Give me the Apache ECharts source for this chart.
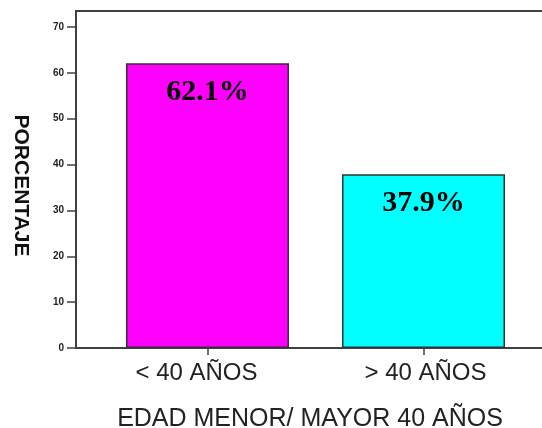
<!DOCTYPE html>
<html>
<head>
<meta charset="utf-8">
<script src="https://cdn.jsdelivr.net/npm/echarts@6/dist/echarts.min.js"></script>
<style>html,body{margin:0;padding:0;background:#fff;}#c{width:542px;height:428px;}</style>
</head>
<body>
<div id="c"></div>
<script>
const categories = ['< 40 AÑOS', '> 40 AÑOS'];
const values = [62.1, 37.9];
const barColors = ['#FF00FF', '#00FFFF'];
const yTicks = [0, 10, 20, 30, 40, 50, 60, 70];
const yMax = 73.5;
const xTitle = 'EDAD MENOR/ MAYOR 40 AÑOS';
const yTitle = 'PORCENTAJE';

const lineColor = '#404040';
const sans = 'Liberation Sans, Arial, sans-serif';
const chart = echarts.init(document.getElementById('c'), null, {renderer: 'canvas'});
chart.setOption({
  animation: false,
  backgroundColor: '#ffffff',
  title: {
    text: xTitle, left: 305, top: 402, textAlign: 'center',
    textStyle: {fontFamily: sans, fontSize: 25, fontWeight: 'normal', color: '#222'}
  },
  grid: [
    {left: 76, top: 11, right: 0, bottom: 80, containLabel: false},
    {left: 99.5, top: 11, right: 10.5, bottom: 80, containLabel: false}
  ],
  xAxis: [
    {gridIndex: 0, type: 'value', min: 0, max: 1, position: 'bottom',
     axisLine: {show: true, lineStyle: {color: lineColor, width: 2}},
     axisTick: {show: false}, axisLabel: {show: false}, splitLine: {show: false}},
    {gridIndex: 0, type: 'value', min: 0, max: 1, position: 'top',
     axisLine: {show: true, lineStyle: {color: lineColor, width: 2}},
     axisTick: {show: false}, axisLabel: {show: false}, splitLine: {show: false}},
    {gridIndex: 1, type: 'category', data: categories, position: 'bottom',
     axisLine: {show: false},
     axisTick: {show: true, alignWithLabel: true, length: 7, lineStyle: {color: lineColor, width: 1.5}},
     axisLabel: {margin: 13, color: '#222',
       formatter: (v, i) => (i === 0 ? '{a|' : '{b|') + v + '}',
       rich: {
         a: {fontFamily: sans, fontSize: 24, color: '#222', padding: [0, 22, 0, 0]},
         b: {fontFamily: sans, fontSize: 24, color: '#222', padding: [0, 0, 0, 4]}
       }},
     splitLine: {show: false}}
  ],
  yAxis: [
    {gridIndex: 0, type: 'value', min: 0, max: yMax, interval: 10,
     name: yTitle, nameLocation: 'middle', nameRotate: -90, nameGap: 45,
     nameTextStyle: {fontFamily: sans, fontSize: 21, fontWeight: 'bold', color: '#111', padding: [0, 0, 0, 12]},
     axisLine: {show: true, lineStyle: {color: lineColor, width: 2}},
     axisTick: {show: true, length: 9, customValues: yTicks, lineStyle: {color: lineColor, width: 1.5}},
     axisLabel: {customValues: yTicks, margin: 12, fontFamily: sans, fontSize: 10, fontWeight: 'bold', color: '#222'},
     splitLine: {show: false}},
    {gridIndex: 1, type: 'value', min: 0, max: yMax, interval: 10, show: false,
     splitLine: {show: false}}
  ],
  series: [{
    type: 'bar', xAxisIndex: 2, yAxisIndex: 1, barWidth: 163,
    data: values.map((v, i) => ({value: v, itemStyle: {color: barColors[i]}})),
    itemStyle: {borderColor: '#333', borderWidth: 1.5},
    label: {show: true, position: 'insideTop', distance: 14,
      formatter: p => p.value.toFixed(1) + '%',
      fontFamily: 'Liberation Serif, Times New Roman, serif', fontSize: 30, fontWeight: 'bold', color: '#000'}
  }]
});
</script>
</body>
</html>
